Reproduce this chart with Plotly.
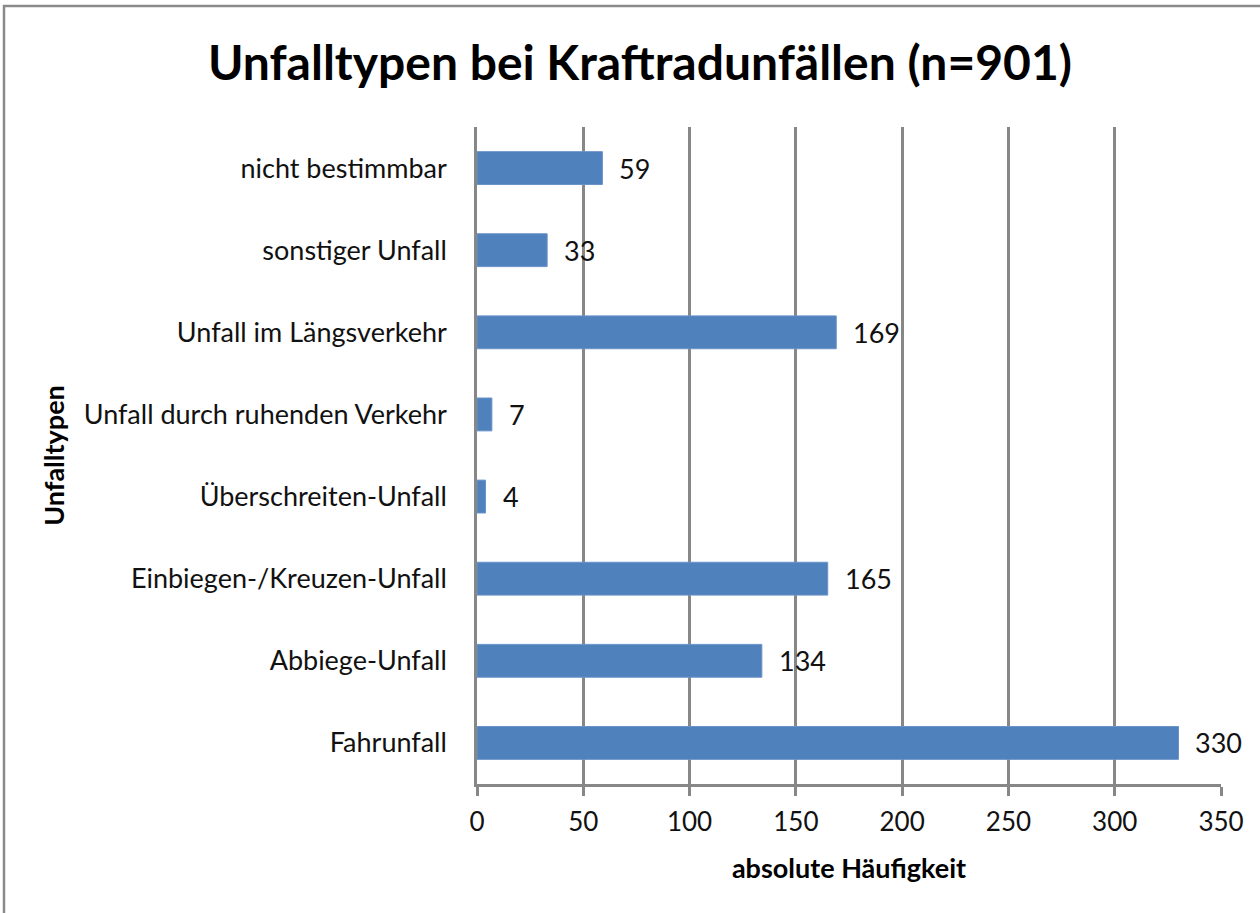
import plotly.graph_objects as go

categories = ["Fahrunfall", "Abbiege-Unfall", "Einbiegen-/Kreuzen-Unfall", "Überschreiten-Unfall",
              "Unfall durch ruhenden Verkehr", "Unfall im Längsverkehr", "sonstiger Unfall", "nicht bestimmbar"]
values = [330, 134, 165, 4, 7, 169, 33, 59]
x_ticks = [0, 50, 100, 150, 200, 250, 300, 350]

FONT = "Lato"
GRID = "#878787"

fig = go.Figure()
fig.add_trace(go.Bar(
    x=values, y=categories, orientation="h",
    marker=dict(color="#4F81BD", line=dict(color="#6A93C8", width=1)),
    width=0.4, showlegend=False,
))
for c, v in zip(categories, values):
    fig.add_annotation(x=v, y=c, text=str(v), showarrow=False, xanchor="left",
                       xshift=15, font=dict(family=FONT, size=27, color="#111"))

W, H = 1260, 913
L, R, T, B = 477, 39, 127, 129
pw, ph = W - L - R, H - T - B
def px(xp): return (xp - L) / pw
def py(yp): return (H - B - yp) / ph

fig.add_shape(type="rect", xref="paper", yref="paper",
              x0=px(4), x1=px(1300), y0=py(6), y1=py(960),
              line=dict(color="#8a8a8a", width=2.5), fillcolor="rgba(0,0,0,0)", layer="below")

fig.update_layout(
    width=W, height=H,
    margin=dict(l=L, r=R, t=T, b=B),
    paper_bgcolor="white", plot_bgcolor="white",
    title=dict(text="<b>Unfalltypen bei Kraftradunfällen (n=901)</b>", x=640 / W, xanchor="center",
               y=1 - 63 / H, yanchor="middle", font=dict(family=FONT, size=48, color="#000")),
    font=dict(family=FONT, color="#111"),
    bargap=0.6,
)
fig.update_xaxes(
    range=[0, 350], tickvals=x_ticks, ticktext=[str(t) for t in x_ticks],
    showgrid=True, gridcolor=GRID, gridwidth=2.5,
    showline=True, linecolor=GRID, linewidth=2.5,
    ticks="outside", ticklen=9, tickwidth=2.5, tickcolor=GRID,
    tickfont=dict(family=FONT, size=26, color="#111"), ticklabelstandoff=4,
    title=dict(text="<b>absolute Häufigkeit</b>", font=dict(family=FONT, size=27, color="#000"), standoff=24),
    zeroline=False, mirror=False,
)
fig.update_yaxes(
    showgrid=False, showline=True, linecolor=GRID, linewidth=2.5,
    ticks="", tickfont=dict(family=FONT, size=27, color="#111"), ticklabelstandoff=22,
    title=dict(text="<b>Unfalltypen</b>", font=dict(family=FONT, size=27, color="#000"), standoff=12),
)
fig.write_html("out.html", config={"displayModeBar": False},
               post_script="document.body.style.margin='0';document.body.style.padding='0';")
